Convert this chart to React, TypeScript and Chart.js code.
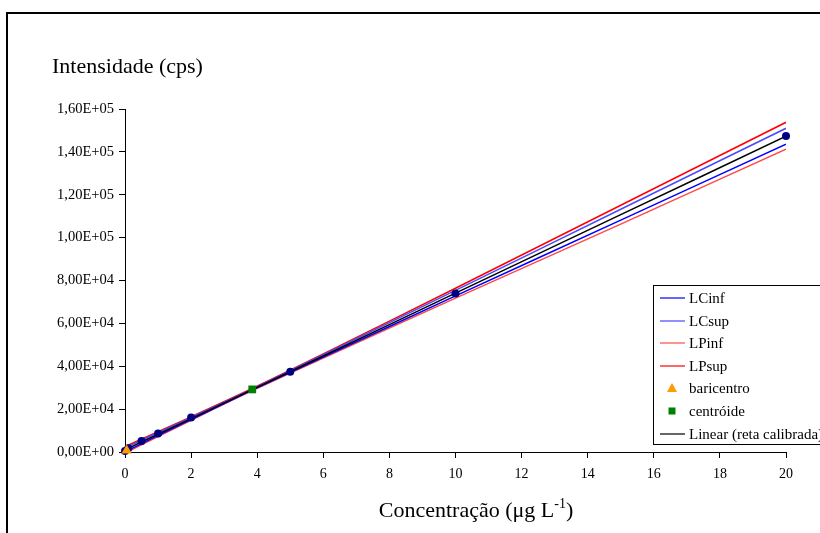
import React, { useEffect, useRef } from "react";
import { Chart, registerables } from "chart.js";

Chart.register(...registerables);

const xTickLabels = ["0", "2", "4", "6", "8", "10", "12", "14", "16", "18", "20"];
const yTickLabels = [
  "0,00E+00", "2,00E+04", "4,00E+04", "6,00E+04", "8,00E+04",
  "1,00E+05", "1,20E+05", "1,40E+05", "1,60E+05",
];

// calibration standards
const pointX = [0, 0.1, 0.5, 1, 2, 5, 10, 20];
const pointY = [500, 1700, 5100, 8600, 16100, 37400, 73900, 147400];

// bands and fitted line, sampled along x
const bandX = [0, 2, 3.85, 6, 10, 15, 20];
const linearY = [1000, 15600, 29100, 44800, 74100, 110700, 147300];
const lcInfY = [100, 15150, 28850, 44250, 72800, 108150, 143600];
const lcSupY = [1900, 16050, 29350, 45350, 75400, 113250, 151000];
const lpInfY = [-500, 14800, 28600, 43850, 71800, 106300, 141300];
const lpSupY = [2500, 16400, 29600, 45750, 76400, 115100, 153800];

const baricentroX = [0.05];
const baricentroY = [700];
const centroideX = [3.85];
const centroideY = [29200];

const legendLabels = ["LCinf", "LCsup", "LPinf", "LPsup", "baricentro", "centróide", "Linear (reta calibrada)"];

const SERIF = "'Liberation Serif', 'Times New Roman', serif";

const C_LCINF = "#0000ff";
const C_LCSUP = "#4a4aff";
const C_LPINF = "#ff4a4a";
const C_LPSUP = "#ff0000";
const C_BARI = "#ff9900";
const C_CENT = "#008000";
const C_LIN = "#000000";
const C_PTS = "#000080";

const zip = (xs: number[], ys: number[]) => xs.map((x, i) => ({ x, y: ys[i] }));

const decorPlugin = {
  id: "decor",
  afterDraw(chart: any) {
    const ctx = chart.ctx as CanvasRenderingContext2D;
    ctx.save();
    // outer frame (clipped by the page edge)
    ctx.strokeStyle = "#000";
    ctx.lineWidth = 2;
    ctx.beginPath();
    ctx.moveTo(7, 540);
    ctx.lineTo(7, 13);
    ctx.lineTo(830, 13);
    ctx.stroke();

    // y title
    ctx.fillStyle = "#000";
    ctx.font = `22px ${SERIF}`;
    ctx.textAlign = "left";
    ctx.textBaseline = "alphabetic";
    ctx.fillText("Intensidade (cps)", 52, 73);

    // x title with superscript
    const main = "Concentração (μg L";
    const sup = "-1";
    const tail = ")";
    ctx.font = `22px ${SERIF}`;
    const wMain = ctx.measureText(main).width;
    const wTail = ctx.measureText(tail).width;
    ctx.font = `14px ${SERIF}`;
    const wSup = ctx.measureText(sup).width;
    const total = wMain + wSup + wTail;
    const x0 = 476 - total / 2;
    const base = 517;
    ctx.font = `22px ${SERIF}`;
    ctx.fillText(main, x0, base);
    ctx.font = `14px ${SERIF}`;
    ctx.fillText(sup, x0 + wMain, base - 9);
    ctx.font = `22px ${SERIF}`;
    ctx.fillText(tail, x0 + wMain + wSup, base);

    // legend box
    ctx.lineWidth = 1;
    ctx.strokeStyle = "#000";
    ctx.strokeRect(653.5, 285.5, 180, 159);
    const rows = [298, 321, 343, 366, 388, 411, 434];
    const lineColors = [C_LCINF, C_LCSUP, C_LPINF, C_LPSUP, null, null, C_LIN];
    ctx.font = `15px ${SERIF}`;
    ctx.textBaseline = "middle";
    legendLabels.forEach((lab, i) => {
      const y = rows[i];
      const col = lineColors[i];
      if (col) {
        ctx.strokeStyle = col;
        ctx.lineWidth = 1.2;
        ctx.beginPath();
        ctx.moveTo(660, y);
        ctx.lineTo(685, y);
        ctx.stroke();
      } else if (i === 4) {
        ctx.fillStyle = C_BARI;
        ctx.beginPath();
        ctx.moveTo(672, y - 5);
        ctx.lineTo(677, y + 4);
        ctx.lineTo(667, y + 4);
        ctx.closePath();
        ctx.fill();
      } else if (i === 5) {
        ctx.fillStyle = C_CENT;
        ctx.fillRect(668.5, y - 3.5, 7, 7);
      }
      ctx.fillStyle = "#000";
      ctx.fillText(lab, 689, y + 1);
    });
    ctx.restore();
  },
};

export default function App() {
  const ref = useRef<HTMLCanvasElement | null>(null);

  useEffect(() => {
    if (!ref.current) return;
    Chart.defaults.font.family = SERIF;
    Chart.defaults.font.size = 13;
    Chart.defaults.color = "#000";

    const lineDs = (label: string, ys: number[], color: string) => ({
      label,
      data: zip(bandX, ys),
      showLine: true,
      borderColor: color,
      backgroundColor: color,
      borderWidth: 1.5,
      pointRadius: 0,
      pointHoverRadius: 0,
      fill: false,
      tension: 0.4,
    });

    const chart = new Chart(ref.current, {
      type: "scatter",
      data: {
        datasets: [
          {
            label: "centróide",
            data: zip(centroideX, centroideY),
            pointStyle: "rect",
            pointRadius: 5.5,
            backgroundColor: C_CENT,
            borderColor: C_CENT,
            borderWidth: 0,
            clip: false,
          } as any,
          {
            label: "baricentro",
            data: zip(baricentroX, baricentroY),
            pointStyle: "triangle",
            pointRadius: 6,
            backgroundColor: C_BARI,
            borderColor: C_BARI,
            borderWidth: 0,
            clip: false,
          },
          {
            label: "pontos",
            data: zip(pointX, pointY),
            pointStyle: "circle",
            pointRadius: 4,
            backgroundColor: C_PTS,
            borderColor: C_PTS,
            borderWidth: 0,
            clip: false,
          },
          lineDs("Linear (reta calibrada)", linearY, C_LIN),
          lineDs("LCinf", lcInfY, C_LCINF),
          lineDs("LCsup", lcSupY, C_LCSUP),
          lineDs("LPinf", lpInfY, C_LPINF),
          lineDs("LPsup", lpSupY, C_LPSUP),
        ],
      },
      options: {
        animation: false,
        responsive: false,
        devicePixelRatio: 1,
        layout: { padding: { left: 0, top: 109, right: 34, bottom: 0 } },
        plugins: {
          legend: { display: false },
          tooltip: { enabled: false },
          title: { display: false },
        },
        scales: {
          x: {
            type: "linear",
            min: 0,
            max: 20,
            afterFit: (s: any) => { s.height = 81; },
            grid: {
              display: true,
              drawOnChartArea: false,
              drawTicks: true,
              tickLength: 6,
              color: "#000",
            },
            border: { display: true, color: "#000", width: 1 },
            ticks: {
              stepSize: 2,
              padding: 8,
              maxRotation: 0,
              font: { family: SERIF, size: 14 },
              color: "#000",
              callback: (v: any) => xTickLabels[Math.round(Number(v) / 2)] ?? "",
            },
          },
          y: {
            type: "linear",
            min: 0,
            max: 160000,
            afterFit: (s: any) => { s.width = 125; },
            grid: {
              display: true,
              drawOnChartArea: false,
              drawTicks: true,
              tickLength: 6,
              color: "#000",
            },
            border: { display: true, color: "#000", width: 1 },
            ticks: {
              stepSize: 20000,
              padding: 5,
              font: { family: SERIF, size: 14.5 },
              color: "#000",
              callback: (v: any) => yTickLabels[Math.round(Number(v) / 20000)] ?? "",
            },
          },
        },
      },
      plugins: [decorPlugin],
    });
    return () => chart.destroy();
  }, []);

  return (
    <div style={{ position: "fixed", left: 0, top: 0, width: 820, height: 533, background: "#fff" }}>
      <canvas ref={ref} width={820} height={533} style={{ width: 820, height: 533, display: "block" }} />
    </div>
  );
}
